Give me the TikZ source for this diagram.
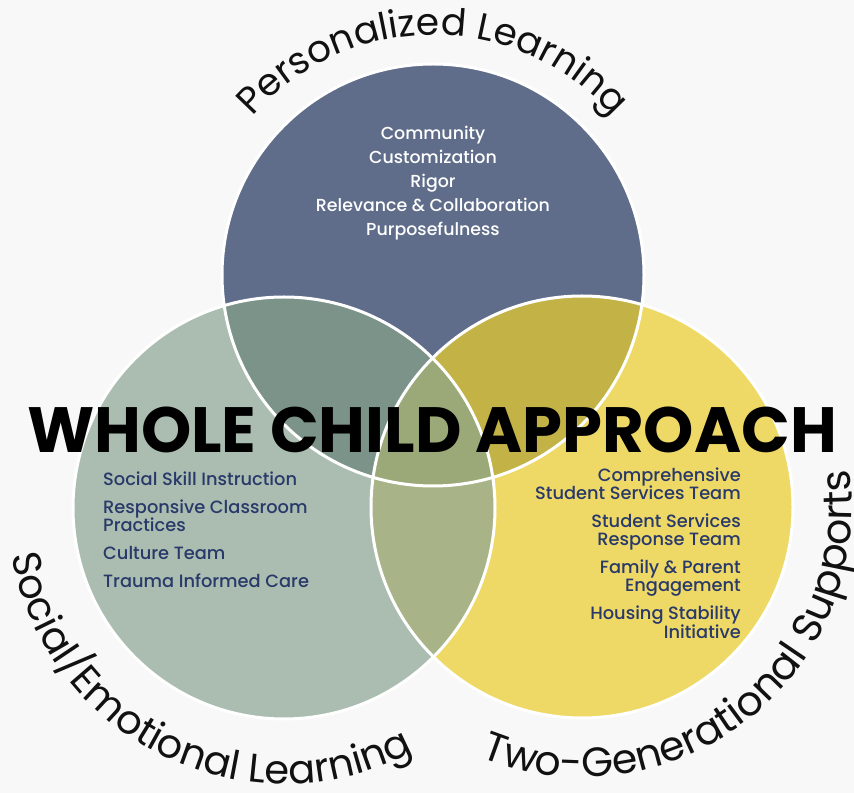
\documentclass[tikz,border=0pt]{standalone}
\usepackage{fontspec}
\setmainfont{Poppins}
\IfFontExistsTF{Poppins Medium}{\newfontfamily\medfont{Poppins Medium}}{\newfontfamily\medfont{Poppins}[FakeBold=0.4]}
\usetikzlibrary{decorations.text}
\definecolor{bg}{HTML}{F8F8F8}
\definecolor{cT}{HTML}{5F6D8A}
\definecolor{cL}{HTML}{ABBDB0}
\definecolor{cR}{HTML}{EFD966}
\definecolor{cTL}{HTML}{7B9389}
\definecolor{cTR}{HTML}{C3B346}
\definecolor{cLR}{HTML}{A8B487}
\definecolor{cC}{HTML}{9BA978}
\definecolor{navy}{HTML}{28396A}
\definecolor{ink}{HTML}{111111}
\begin{document}
\begin{tikzpicture}[x=1pt,y=1pt,
  ring/.style={draw=white, line width=3pt},
  listtxt/.style={font=\medfont\fontsize{17.8}{18}\selectfont, text=navy, inner sep=0pt},
  toptxt/.style={font=\medfont\fontsize{17.4}{18}\selectfont, text=white, inner sep=0pt, anchor=base},
  lefttxt/.style={listtxt, anchor=base west},
  righttxt/.style={listtxt, anchor=base east},
  curvelabel/.style={decorate, decoration={text along path, text align=center, text color=ink}}
]
\useasboundingbox (0,0) rectangle (854,793);
\fill[bg] (0,0) rectangle (854,793);
\coordinate (T) at (433,518);
\coordinate (L) at (284,285);
\coordinate (R) at (582,286);
\def\rr{211}
% base circles
\fill[cT] (T) circle[radius=\rr];
\fill[cL] (L) circle[radius=\rr];
\fill[cR] (R) circle[radius=\rr];
% overlaps
\begin{scope}
  \clip (T) circle[radius=\rr];
  \fill[cTL] (L) circle[radius=\rr];
  \fill[cTR] (R) circle[radius=\rr];
\end{scope}
\begin{scope}
  \clip (L) circle[radius=\rr];
  \fill[cLR] (R) circle[radius=\rr];
\end{scope}
\begin{scope}
  \clip (T) circle[radius=\rr];
  \clip (L) circle[radius=\rr];
  \fill[cC] (R) circle[radius=\rr];
\end{scope}
% white rings
\draw[ring] (T) circle[radius=\rr];
\draw[ring] (L) circle[radius=\rr];
\draw[ring] (R) circle[radius=\rr];

% curved labels
\path[curvelabel, decoration={text={|\fontsize{37.5}{40}\selectfont|Personalized Learning}}]
  ([shift={(150:240)}]T) arc[start angle=150, end angle=30, radius=240];
\path[curvelabel, decoration={text={|\fontsize{40}{42}\selectfont|Social/Emotional Learning}}]
  ([shift={(170:276)}]L) arc[start angle=170, end angle=318, radius=276];
\path[curvelabel, decoration={text={|\fontsize{41}{43}\selectfont|Two-Generational Supports}}]
  ([shift={(242:270)}]R) arc[start angle=242, end angle=374, radius=270];

% top list
\node[toptxt] (t1) at (433,653) {Community};
\node[toptxt] (t2) at (433,629) {Customization};
\node[toptxt] (t3) at (433,605) {Rigor};
\node[toptxt] (t4) at (433,581) {Relevance \& Collaboration};
\node[toptxt] (t5) at (433,557) {Purposefulness};

% left list
\node[lefttxt] (l1) at (103,307) {Social Skill Instruction};
\node[lefttxt] (l2) at (103,279) {Responsive Classroom};
\node[lefttxt] (l3) at (103,261) {Practices};
\node[lefttxt] (l4) at (103,233) {Culture Team};
\node[lefttxt] (l5) at (103,205) {Trauma Informed Care};

% right list
\node[righttxt] (r1) at (741,311) {Comprehensive};
\node[righttxt] (r2) at (741,293) {Student Services Team};
\node[righttxt] (r3) at (741,265) {Student Services};
\node[righttxt] (r4) at (741,247) {Response Team};
\node[righttxt] (r5) at (741,219) {Family \& Parent};
\node[righttxt] (r6) at (741,201) {Engagement};
\node[righttxt] (r7) at (741,173) {Housing Stability};
\node[righttxt] (r8) at (741,155) {Initiative};

% title
\node[font=\bfseries\fontsize{64}{66}\selectfont, text=black, inner sep=0pt, anchor=base] (title) at (432,340) {WHOLE CHILD APPROACH};
\end{tikzpicture}
\end{document}
